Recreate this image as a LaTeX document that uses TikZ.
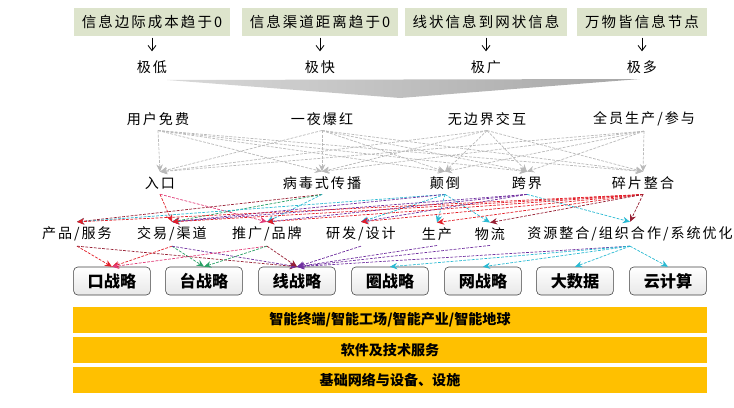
\documentclass[tikz,border=0pt]{standalone}
\usepackage{fontspec}
\setmainfont{Noto Sans CJK SC}
\newfontfamily\spaced[LetterSpace=14]{Noto Sans CJK SC}
\usetikzlibrary{arrows.meta,positioning}
\definecolor{sage}{RGB}{221,228,204}
\definecolor{gold}{RGB}{255,192,0}
\definecolor{linkred}{RGB}{226,30,40}
\definecolor{linkdark}{RGB}{150,30,50}
\definecolor{linkpink}{RGB}{225,60,120}
\definecolor{linkgreen}{RGB}{40,160,100}
\definecolor{linkcyan}{RGB}{40,185,210}
\definecolor{linkpurple}{RGB}{112,48,160}

\begin{document}
\begin{tikzpicture}[
x=0.025cm, y=-0.025cm,
topbox/.style={fill=sage, font=\spaced\fontsize{10.3}{12}\selectfont, inner xsep=0.2cm, minimum height=0.7cm},
level/.style={font=\spaced\fontsize{10}{12}\selectfont},
stratbox/.style={draw=black!75, rounded corners=3pt, top color=white, bottom color=gray!18, font=\bfseries\fontsize{11.5}{13}\selectfont, minimum width=1.92cm, minimum height=0.7cm},
bar/.style={fill=gold, font=\bfseries\fontsize{10}{12}\selectfont, minimum width=15.85cm, minimum height=0.63cm},
arrow/.style={-{Straight Barb[length=1.3mm,width=2mm]}, black, line width=0.6pt, shorten <=1pt, shorten >=3pt},
link/.style={-{Stealth[length=1.8mm,width=1.6mm]}, dash pattern=on 2pt off 1pt, line width=0.5pt},
greylink/.style={link, gray!55}
]
\useasboundingbox (0,0) rectangle (734,407);

% top row
\node[topbox] (t1) at (152,22) {信息边际成本趋于0};
\node[topbox] (t2) at (320,22) {信息渠道距离趋于0};
\node[topbox] (t3) at (486,22) {线状信息到网状信息};
\node[topbox] (t4) at (642,22) {万物皆信息节点};

\node[level, below=0.48cm of t1] (l1) {极低};
\node[level, below=0.48cm of t2] (l2) {极快};
\node[level, below=0.48cm of t3] (l3) {极广};
\node[level, below=0.48cm of t4] (l4) {极多};

\draw[arrow] (t1) -- (l1);
\draw[arrow] (t2) -- (l2);
\draw[arrow] (t3) -- (l3);
\draw[arrow] (t4) -- (l4);

\shade[left color=gray!30, right color=gray!70] (167,80) -- (640,79) -- (400,98) -- cycle;

% effects
\node[level] (u1) at (158,119) {用户免费};
\node[level] (u2) at (322,119) {一夜爆红};
\node[level] (u3) at (487,119) {无边界交互};
\node[level] (u4) at (644,119) {全员生产/参与};

\node[level] (e1) at (160,183) {入口};
\node[level] (e2) at (322,183) {病毒式传播};
\node[level] (e3) at (445,183) {颠倒};
\node[level] (e4) at (527,183) {跨界};
\node[level] (e5) at (643,183) {碎片整合};

\node[level] (p1) at (77,234) {产品/服务};
\node[level] (p2) at (172,234) {交易/渠道};
\node[level] (p3) at (267,234) {推广/品牌};
\node[level] (p4) at (361,234) {研发/设计};
\node[level] (p5) at (437,234) {生产};
\node[level] (p6) at (490,234) {物流};
\node[level] (p7) at (630,234) {资源整合/组织合作/系统优化};

\node[stratbox] (s1) at (112,281) {口战略};
\node[stratbox] (s2) at (204,281) {台战略};
\node[stratbox] (s3) at (297,281) {线战略};
\node[stratbox] (s4) at (390,281) {圈战略};
\node[stratbox] (s5) at (483,281) {网战略};
\node[stratbox] (s6) at (575,281) {大数据};
\node[stratbox] (s7) at (668,281) {云计算};

\node[bar] (b1) at (390,320) {智能终端/智能工场/智能产业/智能地球};
\node[bar] (b2) at (390,350) {软件及技术服务};
\node[bar] (b3) at (390,380) {基础网络与设备、设施};

% grey links
\draw[greylink] (u1.south) -- (e1.north);
\draw[greylink] (u1.south) -- (e2.north);
\draw[greylink] (u1.south) -- (e3.north);
\draw[greylink] (u1.south) -- (e4.north);
\draw[greylink] (u1.south) -- (e5.north);
\draw[greylink] (u2.south) -- (e1.north);
\draw[greylink] (u2.south) -- (e2.north);
\draw[greylink] (u2.south) -- (e3.north);
\draw[greylink] (u2.south) -- (e4.north);
\draw[greylink] (u2.south) -- (e5.north);
\draw[greylink] (u3.south) -- (e1.north);
\draw[greylink] (u3.south) -- (e2.north);
\draw[greylink] (u3.south) -- (e3.north);
\draw[greylink] (u3.south) -- (e4.north);
\draw[greylink] (u3.south) -- (e5.north);
\draw[greylink] (u4.south) -- (e1.north);
\draw[greylink] (u4.south) -- (e2.north);
\draw[greylink] (u4.south) -- (e3.north);
\draw[greylink] (u4.south) -- (e4.north);
\draw[greylink] (u4.south) -- (e5.north);

% effects to fields
\draw[link, linkred] (e1.south) -- (p2.north);
\draw[link, linkpink] (e1.south) -- (p3.north);
\draw[link, linkdark] (e2.south) -- (p1.north);
\draw[link, linkgreen] (e2.south) -- (p2.north);
\draw[link, linkcyan] (e2.south) -- (p3.north);
\draw[link, linkcyan] (e3.south) -- (p1.north);
\draw[link, linkpurple] (e3.south) -- (p2.north);
\draw[link, linkcyan] (e3.south) -- (p4.north);
\draw[link, linkcyan] (e3.south) -- (p5.north);
\draw[link, linkcyan] (e3.south) -- (p6.north);
\draw[link, linkpurple] (e4.south) -- (p2.north);
\draw[link, linkpurple] (e4.south) -- (p3.north);
\draw[link, linkpurple] (e4.south) -- (p4.north);
\draw[link, linkcyan] (e4.south) -- (p7.north);
\draw[link, linkred] (e5.south) -- (p1.north);
\draw[link, linkred] (e5.south) -- (p2.north);
\draw[link, linkred] (e5.south) -- (p3.north);
\draw[link, linkred] (e5.south) -- (p4.north);
\draw[link, linkred] (e5.south) -- (p5.north);
\draw[link, linkdark] (e5.south) -- (p6.north);
\draw[link, linkdark] (e5.south) -- (p7.north);

% fields to strategies
\draw[link, linkred] (p1.south) -- (s1.north);
\draw[link, linkdark] (p1.south) -- (s3.north);
\draw[link, linkred] (p2.south) -- (s1.north);
\draw[link, linkgreen] (p2.south) -- (s2.north);
\draw[link, linkpurple] (p2.south) -- (s3.north);
\draw[link, linkpink] (p3.south) -- (s1.north);
\draw[link, linkgreen] (p3.south) -- (s2.north);
\draw[link, linkdark] (p3.south) -- (s3.north);
\draw[link, linkpurple] (p4.south) -- (s3.north);
\draw[link, linkpurple] (p5.south) -- (s3.north);
\draw[link, linkpurple] (p6.south) -- (s3.north);
\draw[link, linkpurple] (p7.south) -- (s3.north);
\draw[link, linkcyan] (p7.south) -- (s4.north);
\draw[link, linkcyan] (p7.south) -- (s5.north);
\draw[link, linkcyan] (p7.south) -- (s6.north);
\draw[link, linkcyan] (p7.south) -- (s7.north);
\end{tikzpicture}
\end{document}
